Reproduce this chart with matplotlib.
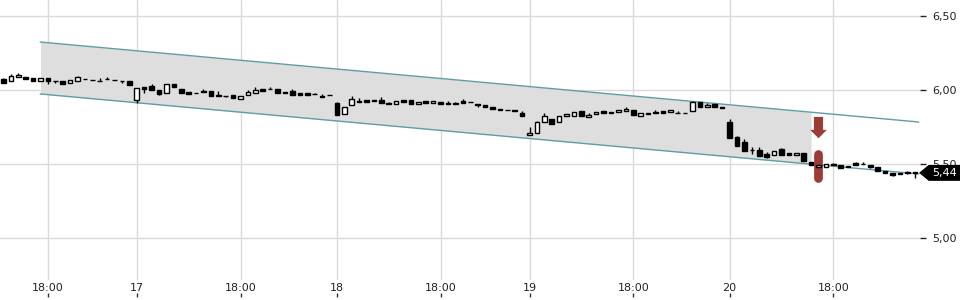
import matplotlib
matplotlib.use("Agg")
import matplotlib.pyplot as plt
import matplotlib.transforms as mtransforms
from matplotlib.patches import Polygon
from matplotlib.ticker import FuncFormatter, FixedLocator
import numpy as np

# ---------------- data ----------------
opens = [6.076, 6.059, 6.086, 6.090, 6.079, 6.063, 6.083, 6.063, 6.059, 6.049,
         6.063, 6.075, 6.069, 6.062, 6.071, 6.068, 6.062, 6.059, 5.930, 6.018,
         6.025, 5.998, 5.982, 6.041, 6.005, 5.984, 5.982, 5.991, 5.991, 5.964,
         5.962, 5.968, 5.937, 5.964, 5.982, 6.009, 6.009, 6.009, 5.986, 5.995,
         5.980, 5.977, 5.975, 5.961, 5.965, 5.912, 5.840, 5.897, 5.926, 5.930,
         5.935, 5.935, 5.910, 5.903, 5.930, 5.930, 5.903, 5.923, 5.910, 5.919,
         5.912, 5.910, 5.928, 5.918, 5.905, 5.899, 5.883, 5.869, 5.867, 5.867,
         5.847, 5.694, 5.707, 5.782, 5.804, 5.782, 5.822, 5.822, 5.858, 5.816,
         5.836, 5.856, 5.851, 5.849, 5.856, 5.865, 5.822, 5.845, 5.853, 5.858,
         5.849, 5.847, 5.846, 5.858, 5.919, 5.883, 5.905, 5.885, 5.782, 5.682,
         5.649, 5.597, 5.597, 5.570, 5.559, 5.599, 5.577, 5.561, 5.577, 5.516,
         5.478, 5.478, 5.498, 5.493, 5.486, 5.505, 5.500, 5.491, 5.480, 5.455,
         5.441, 5.437, 5.444, 5.447]
highs = [6.078, 6.108, 6.113, 6.090, 6.079, 6.081, 6.083, 6.063, 6.059, 6.065,
         6.095, 6.075, 6.069, 6.081, 6.086, 6.068, 6.062, 6.059, 6.014, 6.018,
         6.041, 5.998, 6.041, 6.041, 6.005, 5.984, 5.982, 6.005, 5.991, 5.991,
         5.962, 5.968, 5.957, 6.000, 6.018, 6.009, 6.022, 6.009, 5.986, 6.005,
         5.980, 5.977, 5.980, 5.973, 5.965, 5.921, 5.885, 5.959, 5.946, 5.930,
         5.935, 5.951, 5.917, 5.923, 5.930, 5.930, 5.919, 5.923, 5.926, 5.919,
         5.923, 5.919, 5.941, 5.918, 5.905, 5.899, 5.883, 5.869, 5.867, 5.867,
         5.858, 5.748, 5.791, 5.845, 5.804, 5.822, 5.838, 5.849, 5.858, 5.843,
         5.851, 5.856, 5.851, 5.865, 5.885, 5.865, 5.843, 5.845, 5.865, 5.858,
         5.865, 5.860, 5.846, 5.928, 5.919, 5.910, 5.905, 5.885, 5.804, 5.691,
         5.669, 5.617, 5.617, 5.579, 5.588, 5.610, 5.577, 5.577, 5.577, 5.516,
         5.491, 5.498, 5.509, 5.493, 5.486, 5.511, 5.516, 5.491, 5.480, 5.455,
         5.441, 5.437, 5.453, 5.447]
lows = [6.047, 6.059, 6.086, 6.076, 6.059, 6.063, 6.041, 6.047, 6.041, 6.049,
        6.063, 6.073, 6.066, 6.062, 6.071, 6.066, 6.045, 6.036, 5.912, 5.982,
        5.998, 5.964, 5.982, 6.018, 5.982, 5.973, 5.978, 5.986, 5.959, 5.960,
        5.951, 5.946, 5.937, 5.964, 5.982, 5.995, 6.007, 5.977, 5.978, 5.968,
        5.964, 5.964, 5.972, 5.951, 5.963, 5.833, 5.840, 5.897, 5.919, 5.921,
        5.926, 5.910, 5.903, 5.903, 5.921, 5.903, 5.903, 5.914, 5.910, 5.903,
        5.903, 5.905, 5.910, 5.916, 5.885, 5.883, 5.874, 5.863, 5.865, 5.860,
        5.824, 5.694, 5.707, 5.782, 5.772, 5.782, 5.822, 5.822, 5.822, 5.816,
        5.836, 5.843, 5.843, 5.849, 5.856, 5.829, 5.822, 5.840, 5.843, 5.847,
        5.849, 5.845, 5.844, 5.858, 5.883, 5.883, 5.883, 5.881, 5.678, 5.624,
        5.590, 5.568, 5.556, 5.539, 5.559, 5.561, 5.561, 5.561, 5.520, 5.491,
        5.478, 5.478, 5.491, 5.475, 5.480, 5.491, 5.498, 5.473, 5.451, 5.439,
        5.419, 5.432, 5.430, 5.407]
closes = [6.047, 6.093, 6.099, 6.076, 6.059, 6.081, 6.063, 6.058, 6.041, 6.065,
          6.086, 6.073, 6.066, 6.063, 6.072, 6.066, 6.059, 6.036, 6.014, 6.009,
          5.998, 5.975, 6.041, 6.018, 5.982, 5.973, 5.978, 5.986, 5.959, 5.960,
          5.960, 5.946, 5.957, 5.986, 6.000, 5.995, 6.007, 5.977, 5.978, 5.968,
          5.964, 5.964, 5.973, 5.955, 5.963, 5.833, 5.885, 5.937, 5.919, 5.921,
          5.926, 5.910, 5.903, 5.923, 5.921, 5.903, 5.919, 5.914, 5.926, 5.903,
          5.903, 5.905, 5.910, 5.916, 5.896, 5.883, 5.874, 5.863, 5.865, 5.860,
          5.824, 5.712, 5.782, 5.822, 5.772, 5.822, 5.838, 5.849, 5.822, 5.831,
          5.851, 5.843, 5.843, 5.865, 5.872, 5.829, 5.843, 5.840, 5.843, 5.847,
          5.865, 5.845, 5.844, 5.917, 5.883, 5.899, 5.883, 5.881, 5.678, 5.624,
          5.590, 5.592, 5.556, 5.547, 5.588, 5.561, 5.561, 5.577, 5.520, 5.491,
          5.491, 5.498, 5.491, 5.475, 5.480, 5.491, 5.498, 5.482, 5.451, 5.439,
          5.428, 5.432, 5.437, 5.440]

tick_positions = [6, 18, 32, 45, 59, 71, 85, 98, 112]
tick_labels = ["18:00", "17", "18:00", "18", "18:00", "19", "18:00", "20", "18:00"]
y_ticks = [5.0, 5.5, 6.0, 6.5]

# trend channel (index, price) and signal
channel_start = 5
channel_fill_end = 109
channel_end = 123.5
channel_upper_start = 6.324
channel_lower_start = 5.973
channel_slope = -0.00456
signal_index = 110
signal_arrow_top = 5.818
signal_arrow_tip = 5.674
signal_bar_low = 5.407
signal_bar_high = 5.566

# ---------------- plot ----------------
fig = plt.figure(figsize=(9.6, 3.0), dpi=100)
ax = fig.add_axes([0, 20 / 300, 920 / 960, 280 / 300])
ax.set_xlim(-0.46, 123.7)
ax.set_ylim(4.716, 6.608)

grid_c = "#dadada"
ax.set_axisbelow(True)
ax.grid(True, color=grid_c, lw=1)
for s in ax.spines.values():
    s.set_visible(False)

# channel
cx = np.array([channel_start, channel_end])
up = channel_upper_start + channel_slope * (cx - channel_start)
lo = channel_lower_start + channel_slope * (cx - channel_start)
fx = np.array([channel_start, channel_fill_end])
ax.fill_between(fx, channel_upper_start + channel_slope * (fx - channel_start),
                channel_lower_start + channel_slope * (fx - channel_start),
                color="#dedede", lw=0, zorder=1)
ax.plot(cx, up, color="#5e9ea3", lw=1, zorder=2)
ax.plot(cx, lo, color="#5e9ea3", lw=1, zorder=2)

# signal bar & arrow
sig_c = "#9d3b37"
ax.plot([signal_index, signal_index], [signal_bar_low, signal_bar_high],
        color=sig_c, lw=6.3, solid_capstyle="round", zorder=3)
ax.annotate("", xy=(signal_index, signal_arrow_tip), xytext=(signal_index, signal_arrow_top),
            arrowprops=dict(arrowstyle="simple,head_length=0.75,head_width=1.5,tail_width=0.82",
                            mutation_scale=8, color=sig_c, shrinkA=0, shrinkB=0, lw=0),
            zorder=3)

# candles
idx = np.arange(len(opens))
o = np.array(opens); c = np.array(closes); h = np.array(highs); l = np.array(lows)
ax.vlines(idx, l, h, color="black", lw=1, zorder=4)
bull = c >= o
ax.bar(idx[bull], (c - o)[bull], bottom=o[bull], width=0.62, color="white",
       edgecolor="black", lw=1, zorder=5)
ax.bar(idx[~bull], (o - c)[~bull], bottom=c[~bull], width=0.62, color="black",
       edgecolor="black", lw=1, zorder=5)

# axes ticks
ax.xaxis.set_major_locator(FixedLocator(tick_positions))
ax.set_xticklabels(tick_labels)
ax.tick_params(axis="x", length=0, pad=2.5, labelsize=8, labelcolor="#222222")
ax.yaxis.tick_right()
ax.set_yticks(y_ticks)
ax.yaxis.set_major_formatter(FuncFormatter(lambda v, p: f"{v:.2f}".replace(".", ",")))
ax.tick_params(axis="y", length=4, width=1, color="#222222", pad=5, labelsize=8,
               labelcolor="#222222")

sec = ax.secondary_xaxis(-0.046)
sec.set_xticks(tick_positions)
sec.set_xticklabels([])
sec.tick_params(length=3, width=1, color="#333333", direction="out")
sec.spines["bottom"].set_visible(False)

# last price label
last = closes[-1]
trans = mtransforms.blended_transform_factory(ax.transAxes, ax.transData)
hh = 0.054
poly = Polygon([[0.999, last], [1.0095, last + hh], [1.05, last + hh],
                [1.05, last - hh], [1.0095, last - hh]],
               closed=True, transform=trans, facecolor="black", edgecolor="none",
               clip_on=False, zorder=10)
ax.add_patch(poly)
ax.text(1.027, last, f"{last:.2f}".replace(".", ","), transform=trans, color="white",
        fontsize=8, ha="center", va="center", zorder=11, clip_on=False)

fig.savefig("out.png", dpi=100)
